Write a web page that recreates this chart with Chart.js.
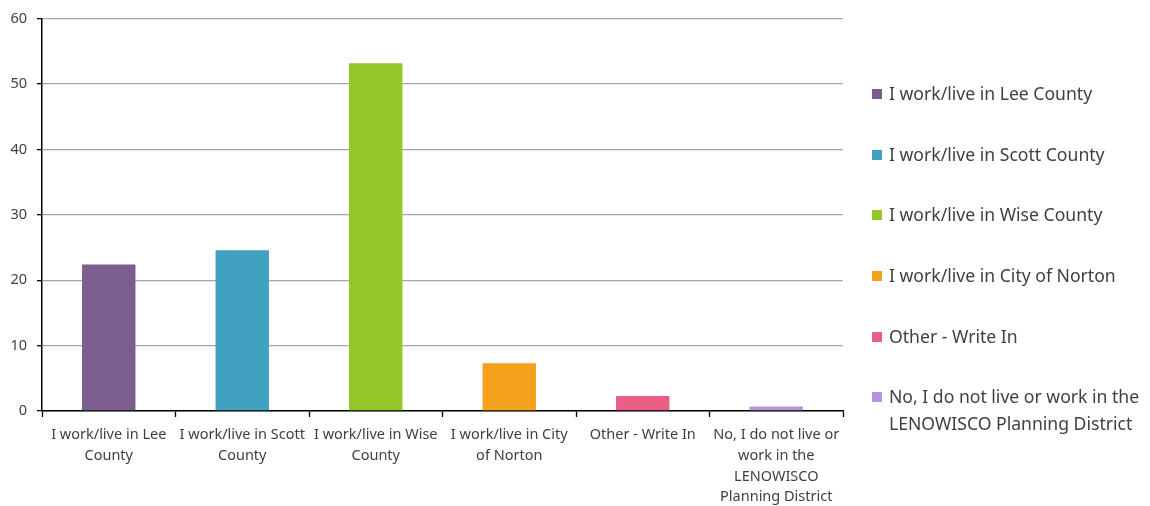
<!DOCTYPE html>
<html>
<head>
<meta charset="utf-8">
<script src="https://cdn.jsdelivr.net/npm/chart.js@4"></script>
<style>
    html, body { margin: 0; padding: 0; background: #fff; }
    #wrap { position: relative; width: 1150px; height: 506px; }
    #legend { position: absolute; left: 871px; top: 0; font-family: "Noto Sans", sans-serif; font-size: 17.6px; color: #404040; }
    .item { position: absolute; left: 0; white-space: nowrap; line-height: 27px; }
    .box { position: absolute; left: 1px; top: 9px; width: 10px; height: 10px; }
    .txt { position: absolute; left: 18px; top: 0; }
</style>
</head>
<body>
<div id="wrap">
    <canvas id="chart" width="1150" height="506"></canvas>
    <div id="legend"></div>
</div>
<script>
// Odpowiedzi z ankiety
const categories = [
    'I work/live in Lee County',
    'I work/live in Scott County',
    'I work/live in Wise County',
    'I work/live in City of Norton',
    'Other - Write In',
    'No, I do not live or work in the LENOWISCO Planning District'
];
const axisLabels = [
    ['I work/live in Lee', 'County'],
    ['I work/live in Scott', 'County'],
    ['I work/live in Wise', 'County'],
    ['I work/live in City', 'of Norton'],
    ['Other - Write In'],
    ['No, I do not live or', 'work in the', 'LENOWISCO', 'Planning District']
];
const legendLines = [
    ['I work/live in Lee County'],
    ['I work/live in Scott County'],
    ['I work/live in Wise County'],
    ['I work/live in City of Norton'],
    ['Other - Write In'],
    ['No, I do not live or work in the', 'LENOWISCO Planning District']
];
const values = [22.4, 24.6, 53.2, 7.3, 2.3, 0.7];
const colors = ['#7b5e8e', '#40a1c1', '#94c727', '#f4a21b', '#eb5f86', '#bb92dc'];
const yTicks = [0, 10, 20, 30, 40, 50, 60];

// Legenda HTML
const legend = document.getElementById('legend');
const legendTops = [80, 141, 201, 262, 323, 383];
legendLines.forEach((lines, i) => {
    const item = document.createElement('div');
    item.className = 'item';
    item.style.top = legendTops[i] + 'px';
    item.innerHTML = '<div class="box" style="background:' + colors[i] + '"></div>' +
        '<div class="txt">' + lines.join('<br>') + '</div>';
    legend.appendChild(item);
});

const ctx = document.getElementById('chart').getContext('2d');
new Chart(ctx, {
    type: 'bar',
    data: {
        labels: axisLabels,
        datasets: [{
            label: 'Responses',
            data: values,
            backgroundColor: colors,
            borderWidth: 0,
            categoryPercentage: 1,
            barPercentage: 0.4
        }]
    },
    options: {
        responsive: false,
        animation: false,
        layout: {
            padding: { left: 0, right: 307, top: 17, bottom: 0 }
        },
        plugins: {
            legend: { display: false },
            tooltip: { enabled: false }
        },
        scales: {
            x: {
                grid: {
                    offset: true,
                    drawOnChartArea: false,
                    drawTicks: true,
                    tickLength: 6,
                    tickColor: '#000',
                    tickWidth: 1.3
                },
                border: { color: '#000', width: 1.5 },
                ticks: {
                    color: '#404040',
                    font: { family: '"Noto Sans", sans-serif', size: 14.5, lineHeight: 1.42 },
                    maxRotation: 0,
                    autoSkip: false,
                    padding: 8
                },
                afterFit: (scale) => { scale.height = 95; }
            },
            y: {
                min: 0,
                max: 60,
                afterBuildTicks: (scale) => { scale.ticks = yTicks.map(v => ({ value: v })); },
                grid: {
                    color: '#a6a6a6',
                    lineWidth: 1.3,
                    drawTicks: true,
                    tickLength: 5,
                    tickColor: '#000'
                },
                border: { color: '#000', width: 1.5 },
                ticks: {
                    color: '#404040',
                    font: { family: '"Noto Sans", sans-serif', size: 14.5 },
                    padding: 10
                },
                afterFit: (scale) => { scale.width = 42; }
            }
        }
    }
});
</script>
</body>
</html>
